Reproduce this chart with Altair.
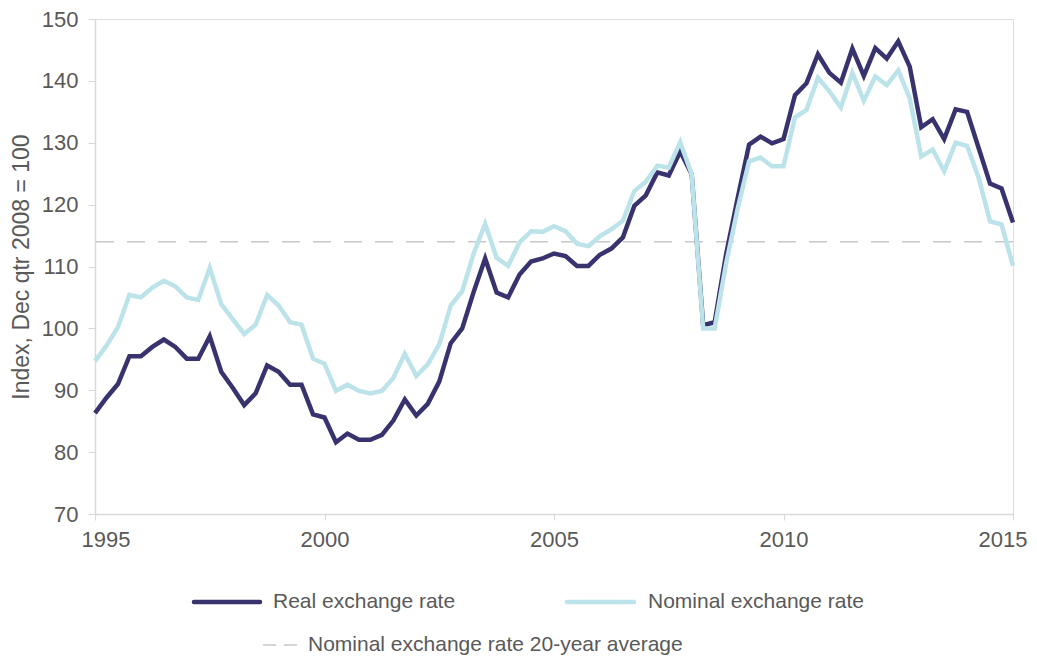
import altair as alt
import pandas as pd

start_year = 1995
real = [86.3, 88.8, 91.0, 95.5, 95.5, 97.0, 98.2, 97.0, 95.1, 95.1,
        98.7, 93.0, 90.4, 87.6, 89.5, 94.0, 93.0, 90.9, 90.9, 86.1,
        85.6, 81.6, 83.0, 82.0, 82.0, 82.8, 85.1, 88.5, 85.9, 87.8,
        91.4, 97.6, 100.0, 105.9, 111.3, 105.8, 105.0, 108.7, 110.8, 111.3,
        112.1, 111.7, 110.1, 110.1, 111.9, 112.9, 114.7, 119.8, 121.5, 125.2,
        124.7, 128.6, 124.9, 100.5, 101.0, 112.0, 121.0, 129.7, 131.0, 129.9,
        130.6, 137.7, 139.6, 144.3, 141.3, 139.7, 145.2, 140.8, 145.3, 143.6,
        146.4, 142.3, 132.5, 133.8, 130.6, 135.4, 135.0, 129.2, 123.4, 122.6, 117.1]
nominal = [94.7, 97.2, 100.2, 105.4, 105.0, 106.6, 107.7, 106.8, 105.0, 104.6,
           109.8, 103.9, 101.5, 99.1, 100.6, 105.4, 103.7, 101.0, 100.6, 95.1,
           94.3, 89.9, 90.9, 89.9, 89.5, 89.9, 92.0, 95.9, 92.3, 94.2,
           97.4, 103.7, 106.0, 112.1, 116.9, 111.4, 110.1, 113.9, 115.7, 115.6,
           116.5, 115.7, 113.7, 113.3, 114.9, 116.0, 117.4, 122.2, 123.7, 126.3,
           126.0, 130.1, 124.9, 100.0, 100.0, 110.5, 119.3, 127.0, 127.6, 126.2,
           126.2, 134.1, 135.3, 140.5, 138.3, 135.7, 141.3, 136.8, 140.7, 139.3,
           141.7, 137.2, 127.8, 128.9, 125.4, 130.0, 129.5, 124.4, 117.3, 116.8, 110.1]
nominal_avg = 114.0
year_ticks = [1995, 2000, 2005, 2010, 2015]
y_ticks = [70, 80, 90, 100, 110, 120, 130, 140, 150]

legend_labels = ["Real exchange rate", "Nominal exchange rate",
                 "Nominal exchange rate 20-year average"]

DARK = "#38336f"
LIGHT = "#bce3ea"
GREY_TXT = "#595959"
AXIS_COL = "#d9d9d9"
FONT = "Liberation Sans"

years = [start_year + i * 0.25 for i in range(len(real))]
df_real = pd.DataFrame({"year": years, "value": real})
df_nom = pd.DataFrame({"year": years, "value": nominal})
df_avg = pd.DataFrame({"value": [nominal_avg]})

x_enc = alt.X("year:Q",
              scale=alt.Scale(domain=[1995, 2015], nice=False, zero=False),
              axis=alt.Axis(values=year_ticks, format="d", title=None, grid=False,
                            labelFontSize=22, labelColor=GREY_TXT, labelFont=FONT,
                            labelFlush=True, labelFlushOffset=14,
                            domainColor=AXIS_COL, tickColor=AXIS_COL, tickSize=6,
                            labelPadding=9, domainWidth=1.5))
y_enc = alt.Y("value:Q",
              scale=alt.Scale(domain=[70, 150], nice=False, zero=False),
              axis=alt.Axis(values=y_ticks, title="Index, Dec qtr 2008 = 100", grid=False,
                            labelFontSize=22, labelColor=GREY_TXT, labelFont=FONT,
                            titleFontSize=23, titleColor=GREY_TXT, titleFont=FONT,
                            titleFontWeight="normal", titlePadding=8,
                            domainColor=AXIS_COL, tickColor=AXIS_COL, tickSize=7,
                            labelPadding=10, domainWidth=1.5))

avg_rule = alt.Chart(df_avg).mark_rule(color="#c8c8c8", strokeWidth=1.5,
                                       strokeDash=[18, 13]).encode(
    y=alt.Y("value:Q", scale=alt.Scale(domain=[70, 150], nice=False, zero=False)))

real_line = alt.Chart(df_real).mark_line(color=DARK, strokeWidth=4.5,
                                         strokeJoin="miter").encode(x=x_enc, y=y_enc)
nom_line = alt.Chart(df_nom).mark_line(color=LIGHT, strokeWidth=4.5,
                                       strokeJoin="miter").encode(x="year:Q", y="value:Q")

# manual legend (plot-area pixel coordinates)
def leg_sym(x1, x2, y, color, width, dash=None):
    kw = dict(color=color, strokeWidth=width)
    if dash:
        kw["strokeDash"] = dash
    else:
        kw["strokeCap"] = "round"
    return alt.Chart(df_avg).mark_rule(**kw).encode(
        x=alt.value(x1), x2=alt.value(x2), y=alt.value(y))

def leg_txt(x, y, text):
    return alt.Chart(df_avg).mark_text(align="left", baseline="middle", fontSize=21,
                                       font=FONT, color=GREY_TXT, text=text).encode(
        x=alt.value(x), y=alt.value(y))

TOP = 11
ly1 = 602 - 8 - TOP
ly2 = 645 - 8 - TOP
legend = (leg_sym(99, 165, ly1, DARK, 4.5) + leg_txt(178, ly1, legend_labels[0]) +
          leg_sym(472, 539, ly1, LIGHT, 4.5) + leg_txt(553, ly1, legend_labels[1]) +
          leg_sym(168, 202, ly2, "#c8c8c8", 1.5, [13, 8]) + leg_txt(213, ly2, legend_labels[2]))

chart = alt.layer(avg_rule, real_line, nom_line, legend).properties(
    width=918, height=495,
    autosize=alt.AutoSizeParams(type="none"),
    padding={"left": 87, "top": TOP, "right": 16, "bottom": 143},
).configure_view(stroke=None).configure(background="white")

chart.save("out.html", embed_options={"renderer": "svg", "actions": False})
